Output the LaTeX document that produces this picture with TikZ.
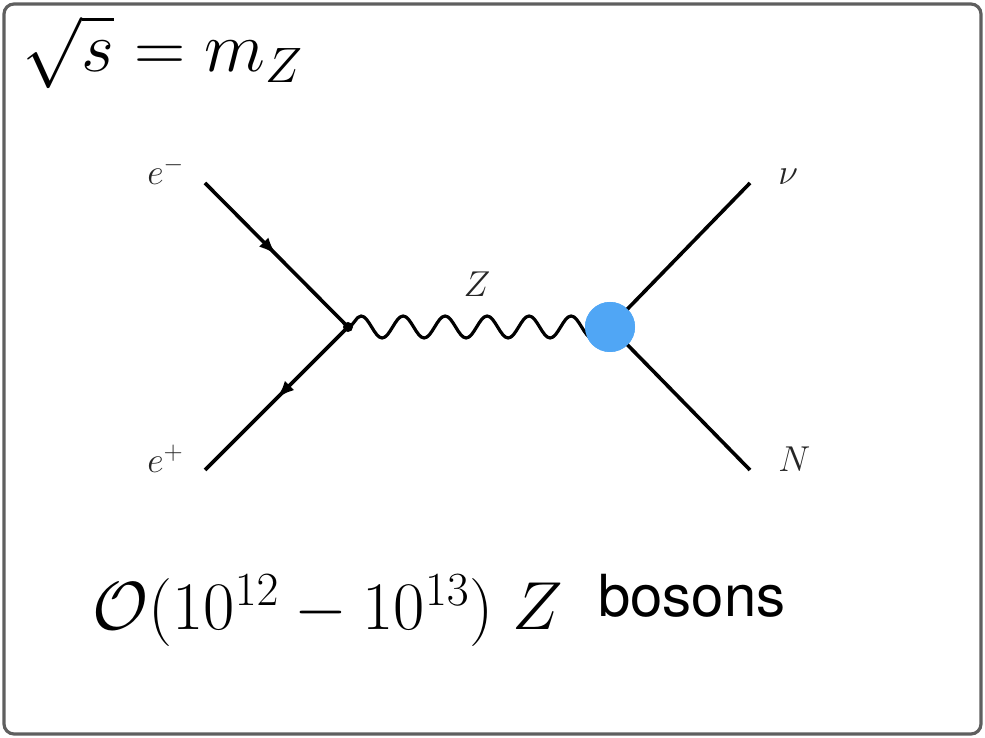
\documentclass[tikz,border=0pt]{standalone}
\usepackage{fix-cm}
\usepackage{amsmath,amssymb}
\usepackage{fontspec}
\newfontfamily\helv{TeX Gyre Heros}
\usepackage{tikz}
\usetikzlibrary{arrows.meta,positioning,calc,decorations.pathmorphing,decorations.markings}
\definecolor{blobblue}{RGB}{80,166,245}
\definecolor{framegray}{RGB}{95,95,95}

\begin{document}
\begin{tikzpicture}[
                    x=0.5pt, y=0.5pt,
                    frame/.style={draw=framegray, line width=1.6pt, rounded corners=5pt},
                    fermion/.style={line width=1.8pt, postaction={decorate},
                        decoration={markings, mark=at position 0.5 with {\arrow{Latex[length=9pt,width=6.5pt]}}}},
                    scalar/.style={line width=1.8pt},
                    boson/.style={line width=1.6pt, decorate,
                        decoration={snake, segment length=21pt, amplitude=5.5pt}},
                    blob/.style={circle, fill=blobblue, minimum size=25pt, inner sep=0pt},
                    lbl/.style={font=\fontsize{18}{20}\selectfont, text=black!85, inner sep=0pt, anchor=base west},
                    big/.style={font=\fontsize{34}{40}\selectfont, inner sep=0pt, anchor=base west}
                ]
                    \useasboundingbox (0,0) rectangle (985,738);
                    \draw[frame] (4,4) rectangle (981,734);

                    % headline
                    \node[big, font=\fontsize{35.5}{40}\selectfont] (cm) at (22,666) {$\sqrt{s}=m_Z$};

                    % diagram
                    \coordinate (em) at (205,555);
                    \coordinate (ep) at (205,268);
                    \coordinate (v1) at (348,411);
                    \coordinate (nu) at (750,555);
                    \coordinate (nn) at (750,268);
                    \node[blob] (v2) at (610,411) {};

                    \draw[fermion] (em) -- (v1);
                    \draw[fermion] (v1) -- (ep);
                    \draw[scalar] (v2.center) -- (nu);
                    \draw[scalar] (v2.center) -- (nn);
                    \draw[boson] (v1) -- (v2.center);
                    \fill (v1) circle (2.5pt);
                    \node[blob] at (v2) {};

                    \node[lbl] (lem) at (147,553) {$e^-$};
                    \node[lbl] (lep) at (147,265) {$e^+$};
                    \node[lbl] (lnu) at (778,553) {$\nu$};
                    \node[lbl] (lnn) at (778,266) {$N$};
                    \node[lbl, anchor=base] (lz) at (477,441) {$Z$};

                    % rate
                    \node[big] (rate) at (92,108) {$\mathcal{O}(10^{12}-10^{13})\;Z$};
                    \node[inner sep=0pt, anchor=base west, font=\helv\fontsize{29}{34}\selectfont] (bos) at (598,121) {bosons};
                \end{tikzpicture}
\end{document}
